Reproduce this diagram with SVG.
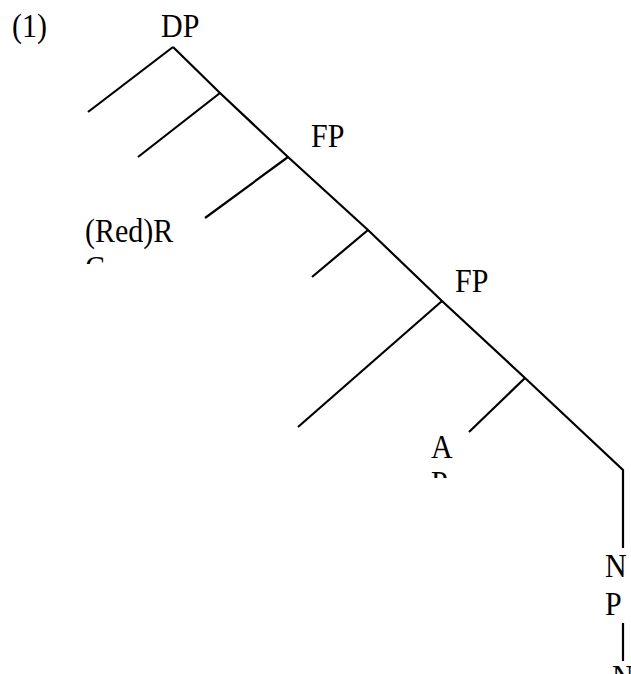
<svg xmlns="http://www.w3.org/2000/svg" width="631" height="674" viewBox="0 0 631 674">
<style>
text{font-family:"Liberation Serif","Times New Roman",serif;font-size:30px;fill:#000}
.e{stroke:#000;stroke-width:2.2;fill:none;stroke-linecap:butt;stroke-linejoin:miter}
</style>
<defs>
<clipPath id="cRC"><rect x="70" y="210" width="130" height="54"/></clipPath>
<clipPath id="cAP"><rect x="420" y="430" width="60" height="48"/></clipPath>
</defs>
<rect width="631" height="674" fill="#fff"/>
<g id="connectors">
<polyline class="e" points="173,47 220,93 288,157 368,230 442,301 525,378 623,470 623,548"/>
<line class="e" x1="173" y1="47" x2="88" y2="112"/>
<line class="e" x1="220" y1="93" x2="138" y2="157"/>
<line class="e" x1="288" y1="157" x2="205" y2="218"/>
<line class="e" x1="368" y1="230" x2="312" y2="277"/>
<line class="e" x1="442" y1="301" x2="298" y2="427"/>
<line class="e" x1="525" y1="378" x2="469" y2="432"/>
<line class="e" x1="623" y1="623" x2="623" y2="661"/>
</g>
<g id="label1"><text x="12" y="37" transform="matrix(1 0 0 1.1 0 -3.7)">(1)</text></g>
<g id="DP"><text x="161" y="37" transform="matrix(1 0 0 1.1 0 -3.7)">DP</text></g>
<g id="FP1"><text x="311" y="147" transform="matrix(1 0 0 1.1 0 -14.7)">FP</text></g>
<g id="RedRC" clip-path="url(#cRC)"><text x="85" y="242" transform="matrix(1 0 0 1.1 0 -24.2)">(Red)R</text><text x="85" y="279" transform="matrix(1 0 0 1.1 0 -27.9)">C</text></g>
<g id="FP2"><text x="455" y="292" transform="matrix(1 0 0 1.1 0 -29.2)">FP</text></g>
<g id="AP" clip-path="url(#cAP)"><text x="431" y="458" transform="matrix(1 0 0 1.1 0 -45.8)">A</text><text x="431" y="494" transform="matrix(1 0 0 1.1 0 -49.4)">P</text></g>
<g id="NP"><text x="605" y="577" transform="matrix(1 0 0 1.1 0 -57.7)">N</text><text x="605" y="615" transform="matrix(1 0 0 1.1 0 -61.5)">P</text></g>
<g id="N"><text x="612" y="688" transform="matrix(1 0 0 1.1 0 -68.8)">N</text></g>
</svg>
